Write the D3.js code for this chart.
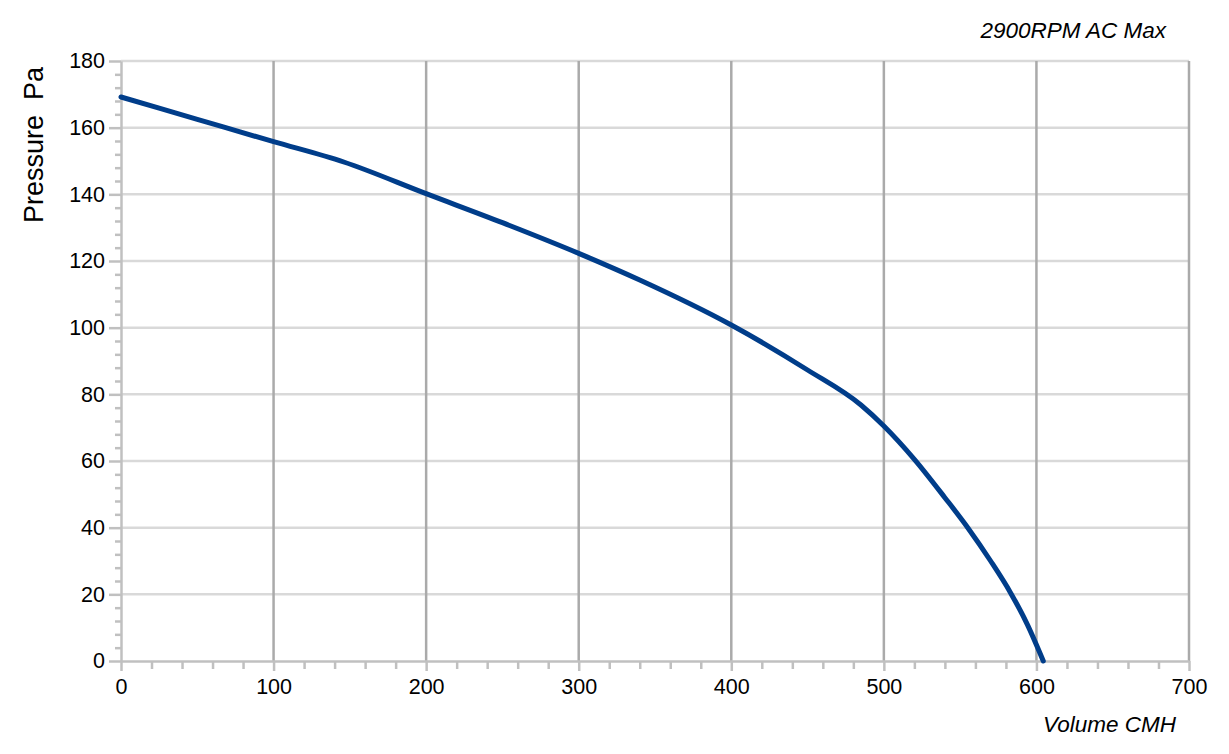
<!DOCTYPE html>
<html><head><meta charset="utf-8">
<script src="https://cdn.jsdelivr.net/npm/d3@7"></script>
<style>body{margin:0;background:#fff}svg text{font-family:"Liberation Sans",Arial,sans-serif;fill:#000;white-space:pre}</style>
</head><body>
<svg id="c" width="1229" height="754"></svg>
<script>
const volume = [0,50,100,146,200,250,300,340,400,450,485,500,520,540,555,570,583,594,604.5];
const pressure = [169.2,162.5,155.8,149.7,140.2,131.5,122.3,114.3,100.8,87.3,76.8,70.5,60.5,49,40,30,20.5,11,0];
const xTicks = [0,100,200,300,400,500,600,700];
const yTicks = [0,20,40,60,80,100,120,140,160,180];
const title = "2900RPM AC Max";
const xLabel = "Volume CMH";
const yLabel = "Pressure  Pa";

const svg = d3.select("#c");
const x = d3.scaleLinear().domain([0,700]).range([121,1189]);
const y = d3.scaleLinear().domain([0,180]).range([661,61]);

// horizontal grid
svg.append("g").selectAll("line").data(yTicks.filter(d=>d>0)).join("line")
  .attr("x1",x(0)).attr("x2",x(700)).attr("y1",d=>y(d)).attr("y2",d=>y(d))
  .attr("stroke","#d9d9d9").attr("stroke-width",2.5);
// vertical grid
svg.append("g").selectAll("line").data(xTicks.filter(d=>d>0)).join("line")
  .attr("y1",y(0)).attr("y2",y(180)).attr("x1",d=>x(d)).attr("x2",d=>x(d))
  .attr("stroke","#aaaaaa").attr("stroke-width",2.5);

// axes
const xAxis = d3.axisBottom(x).tickValues(d3.range(0,701,20)).tickSize(8).tickSizeOuter(0).tickFormat(d=>xTicks.includes(d)?d:"");
const gx = svg.append("g").attr("transform",`translate(0,${y(0)})`).call(xAxis);
gx.select(".domain").attr("stroke","#c0c0c0").attr("stroke-width",2.5);
gx.selectAll(".tick line").attr("stroke","#c0c0c0").attr("stroke-width",2.5);
gx.selectAll(".tick").filter(d=>xTicks.includes(d)).select("line").attr("y2",10);
gx.selectAll(".tick text").attr("font-size",21.5).attr("y",18).attr("dy","0.71em").attr("fill","#000");

const yAxis = d3.axisLeft(y).tickValues(d3.range(0,181,4)).tickSize(6).tickSizeOuter(0).tickFormat(d=>yTicks.includes(d)?d:"");
const gy = svg.append("g").attr("transform",`translate(${x(0)},0)`).call(yAxis);
gy.select(".domain").attr("stroke","#c0c0c0").attr("stroke-width",2.5);
gy.selectAll(".tick line").attr("stroke","#c0c0c0").attr("stroke-width",2.5);
gy.selectAll(".tick").filter(d=>yTicks.includes(d)).select("line").attr("x2",-12);
gy.selectAll(".tick text").attr("font-size",21.5).attr("x",-16).attr("fill","#000");

// curve
const line = d3.line().x((d,i)=>x(volume[i])).y((d,i)=>y(pressure[i])).curve(d3.curveMonotoneX);
svg.append("path").datum(volume).attr("d",line).attr("fill","none")
  .attr("stroke","#003d8a").attr("stroke-width",5).attr("stroke-linecap","round").attr("stroke-linejoin","round");

// labels
svg.append("text").attr("x",1166).attr("y",38).attr("text-anchor","end")
  .attr("font-size",22.5).attr("font-style","italic").text(title);
svg.append("text").attr("x",1176).attr("y",732).attr("text-anchor","end")
  .attr("font-size",22.5).attr("font-style","italic").text(xLabel);
svg.append("text").attr("transform","translate(43,145) rotate(-90)").attr("text-anchor","middle")
  .attr("font-size",27).text(yLabel);
</script>
</body></html>
